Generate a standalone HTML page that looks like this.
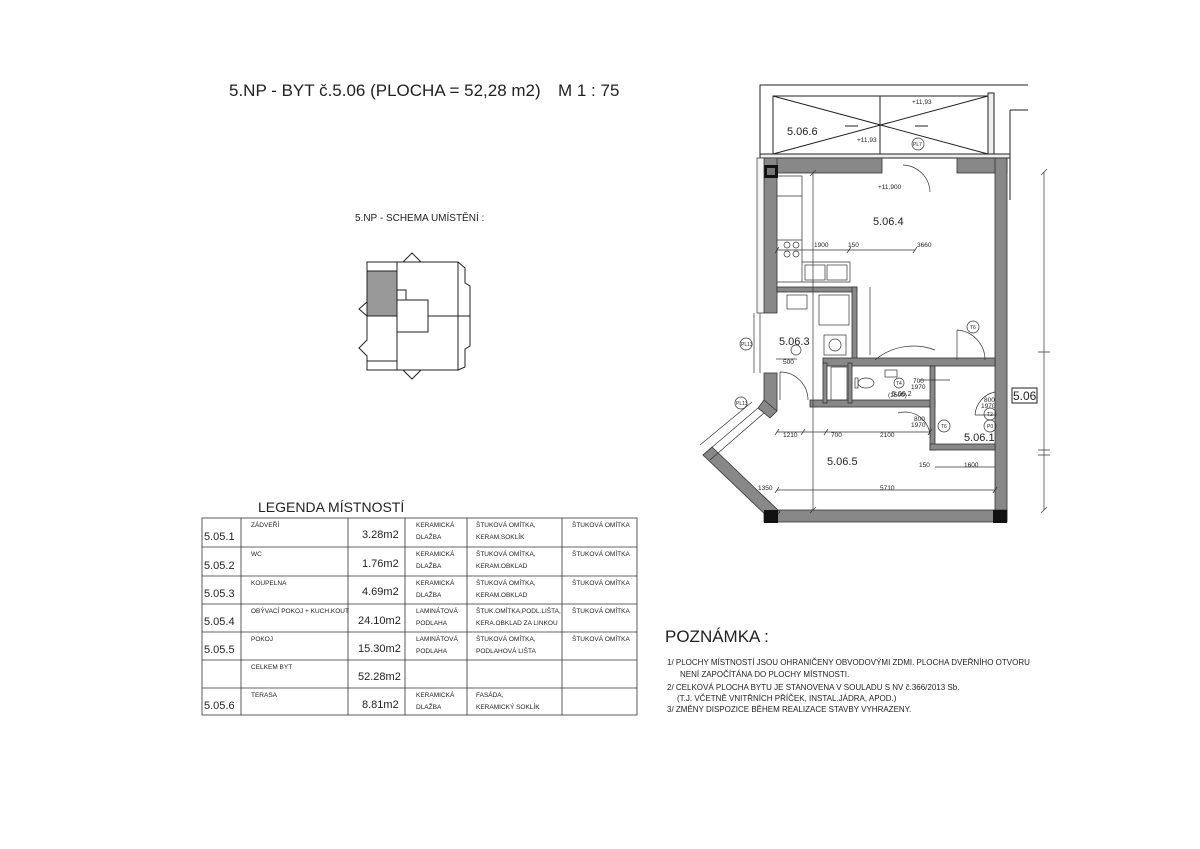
<!DOCTYPE html>
<html><head><meta charset="utf-8"><style>
html,body{margin:0;padding:0;background:#fff}
svg{display:block}
text{font-family:"Liberation Sans",sans-serif;fill:#222}
</style></head><body>
<svg width="1200" height="849" viewBox="0 0 1200 849" xmlns="http://www.w3.org/2000/svg">
<rect width="1200" height="849" fill="#fff"/>
<text x="229" y="96" font-size="17">5.NP - BYT č.5.06 (PLOCHA = 52,28 m2)</text>
<text x="558" y="96" font-size="17">M 1 : 75</text>
<text x="355" y="221" font-size="10">5.NP - SCHEMA UMÍSTĚNÍ :</text>

<!-- schema -->
<g fill="none" stroke="#222" stroke-width="1">
<rect x="367" y="271" width="30" height="45" fill="#999"/>
<path d="M367 262 H458 V370 H367 V356 L359 348 L367 340 V316 L359 309 L367 302 Z"/>
<path d="M367 271 H397 M397 262 V370 M367 361 H397 M397 290 H406 V300 M397 300 H428 V332 H397 M428 316 H470 M458 262 L465 268 V283 L470 286 V346 L465 349 V367 L458 370 M403 262 L412 253 L421 262 M403 370 L412 379 L421 370"/>
</g>

<!-- floor plan -->
<g stroke="#222" stroke-width="1" fill="none">
<path d="M760 157 V85 H1028"/>
<rect x="773" y="96" width="215" height="58"/>
<path d="M773 96 L988 154 M773 154 L988 96 M880 96 V154"/>
<path d="M845 126 H858 M915 126 H928 M880 105 V112 M880 140 V133"/>
<rect x="988" y="93" width="6" height="64" fill="#eee"/>
<rect x="760" y="154" width="250" height="4" fill="#eee"/>
<path d="M1010 110 V200 M1010 110 H1028"/>
</g>
<g fill="#888" stroke="#333" stroke-width="0.8">
<rect x="764" y="158" width="118" height="15"/>
<rect x="957" y="158" width="50" height="15"/>
<rect x="995" y="158" width="12" height="362"/>
<rect x="764" y="158" width="13" height="155"/>
<rect x="764" y="373" width="13" height="38"/>
<rect x="764" y="510" width="243" height="12"/>
<polygon points="703,455 712,447 780,512 771,520"/>
<polygon points="764,400 777,411 770,418 758,408"/>
<rect x="777" y="287" width="80" height="5"/>
<rect x="852" y="287" width="5" height="76"/>
<rect x="823" y="358" width="172" height="8"/>
<rect x="810" y="400" width="125" height="7"/>
<rect x="823" y="363" width="4" height="40"/>
<rect x="848" y="363" width="4" height="40"/>
<rect x="930" y="366" width="5" height="84"/>
<rect x="930" y="444" width="65" height="6"/>
</g>
<g fill="#111">
<rect x="764" y="165" width="14" height="13"/><rect x="767" y="168" width="8" height="7" fill="#777"/>
<rect x="764" y="510" width="14" height="13"/>
<rect x="993" y="510" width="14" height="13"/>
</g>
<g stroke="#333" stroke-width="0.7" fill="none">
<rect x="757" y="158" width="7" height="155" fill="#f4f4f4"/>
<path d="M777 176 H802 V282 M777 196 H802 M777 240 H802 M802 262 H850 V282 H777"/>
<circle cx="787" cy="245" r="3"/><circle cx="796" cy="245" r="3"/><circle cx="787" cy="254" r="3"/><circle cx="796" cy="254" r="3"/>
<rect x="805" y="265" width="20" height="15"/><rect x="827" y="265" width="20" height="15"/>
<rect x="787" y="295" width="20" height="14"/>
<rect x="819" y="295" width="30" height="30"/>
<rect x="824" y="335" width="22" height="20"/><circle cx="835" cy="345" r="6"/>
<rect x="831" y="367" width="16" height="33"/>
<ellipse cx="866" cy="383" rx="8" ry="5"/><rect x="855" y="378" width="3" height="10"/>
<rect x="885" y="370" width="12" height="7"/>
<path d="M875 360 A60 60 0 0 1 935 350"/>
<path d="M957 330 A30 30 0 0 1 985 360 M957 330 V360"/>
<path d="M975 415 A25 25 0 0 1 995 392 M975 415 H995"/>
<path d="M898 413 A25 25 0 0 1 930 438"/>
<path d="M780 372 A28 28 0 0 1 808 400 M780 372 V400"/>
<path d="M903 165 A28 28 0 0 1 930 192"/>
<path d="M703 455 L758 408 M710 460 L764 413 M700 445 L752 402"/>
<path d="M760 313 V373 M754 313 V373"/>
<!-- dims -->
<path d="M813 173 V510 M777 250 H915 M777 432 H930 M777 490 H995 M870 287 V355 M935 467 H995 M1044 172 V510 M1038 352 H1050 M1038 450 H1050 M1038 455 H1050 M776 359 H797 M920 380 H950"/>
<path d="M775 253 L779 247 M847 253 L851 247 M913 253 L917 247 M775 435 L779 429 M801 435 L805 429 M824 435 L828 429 M928 435 L932 429 M775 493 L779 487 M993 493 L997 487 M1041 175 L1047 169 M1041 513 L1047 507 M810 176 L816 170 M810 513 L816 507"/>
</g>
<g font-size="6.5" fill="#222">
<text x="814" y="247">1900</text><text x="848" y="247">150</text><text x="917" y="247">3660</text>
<text x="783" y="437">1210</text><text x="831" y="437">700</text><text x="880" y="437">2100</text>
<text x="758" y="490">1350</text><text x="880" y="490">5710</text>
<text x="919" y="467">150</text><text x="964" y="467">1600</text>
<text x="783" y="364">500</text>
<text x="878" y="189">+11,900</text>
<text x="912" y="104">+11,93</text><text x="857" y="142">+11,93</text>
<text x="888" y="397">(1500)</text>
<text x="984" y="402">800</text><text x="981" y="408">1970</text>
<text x="914" y="421">800</text><text x="911" y="427">1970</text>
<text x="913" y="383">700</text><text x="911" y="389">1970</text>
</g>
<g font-size="6" stroke="#333" stroke-width="0.7" fill="none">
<circle cx="918" cy="144" r="6"/><circle cx="973" cy="327" r="6"/><circle cx="944" cy="426" r="6"/><circle cx="990" cy="414" r="6"/><circle cx="990" cy="426" r="6"/><circle cx="746" cy="344" r="6"/><circle cx="741" cy="403" r="6"/><circle cx="796" cy="350" r="5"/><circle cx="899" cy="383" r="5"/>
</g>
<g font-size="5" fill="#222">
<text x="913" y="146">PL7</text><text x="970" y="329">T6</text><text x="941" y="428">T6</text><text x="987" y="416">T2</text><text x="987" y="428">P0</text><text x="741" y="346">PL13</text><text x="736" y="405">PL13</text><text x="896" y="385">T4</text>
</g>
<g font-size="11" fill="#222">
<text x="787" y="135">5.06.6</text>
<text x="873" y="225">5.06.4</text>
<text x="779" y="345">5.06.3</text>
<text x="827" y="465">5.06.5</text>
<text x="964" y="441">5.06.1</text>
</g>
<text x="892" y="396" font-size="7">5.06.2</text>
<rect x="1012" y="388" width="25" height="15" fill="none" stroke="#222"/>
<text x="1013" y="400" font-size="12">5.06</text>

<!-- legend -->
<text x="258" y="512" font-size="14">LEGENDA MÍSTNOSTÍ</text>
<g stroke="#333" stroke-width="0.8" fill="none">
<rect x="202" y="518" width="435" height="197"/>
<path d="M202 547 H637 M202 576 H637 M202 604 H637 M202 632 H637 M202 660 H637 M202 688 H637 M241 518 V715 M348 518 V715 M405 518 V715 M467 518 V715 M562 518 V715"/>
</g>
<g font-size="11"><text x="204" y="540">5.05.1</text><text x="204" y="569">5.05.2</text><text x="204" y="597">5.05.3</text><text x="204" y="625">5.05.4</text><text x="204" y="653">5.05.5</text><text x="204" y="709">5.05.6</text></g>
<g font-size="11"><text x="362" y="538">3.28m2</text><text x="362" y="567">1.76m2</text><text x="362" y="595">4.69m2</text><text x="358" y="624">24.10m2</text><text x="358" y="652">15.30m2</text><text x="358" y="680">52.28m2</text><text x="362" y="708">8.81m2</text></g>
<g font-size="6.5">
<text x="251" y="527">ZÁDVEŘÍ</text><text x="251" y="556">WC</text><text x="251" y="585">KOUPELNA</text><text x="251" y="613">OBÝVACÍ POKOJ + KUCH.KOUT</text><text x="251" y="641">POKOJ</text><text x="251" y="669">CELKEM BYT</text><text x="251" y="697">TERASA</text>
<text x="416" y="527">KERAMICKÁ</text><text x="416" y="539">DLAŽBA</text>
<text x="416" y="556">KERAMICKÁ</text><text x="416" y="568">DLAŽBA</text>
<text x="416" y="585">KERAMICKÁ</text><text x="416" y="597">DLAŽBA</text>
<text x="416" y="613">LAMINÁTOVÁ</text><text x="416" y="625">PODLAHA</text>
<text x="416" y="641">LAMINÁTOVÁ</text><text x="416" y="653">PODLAHA</text>
<text x="416" y="697">KERAMICKÁ</text><text x="416" y="709">DLAŽBA</text>
<text x="476" y="527">ŠTUKOVÁ OMÍTKA,</text><text x="476" y="539">KERAM.SOKLÍK</text>
<text x="476" y="556">ŠTUKOVÁ OMÍTKA,</text><text x="476" y="568">KERAM.OBKLAD</text>
<text x="476" y="585">ŠTUKOVÁ OMÍTKA,</text><text x="476" y="597">KERAM.OBKLAD</text>
<text x="476" y="613">ŠTUK.OMÍTKA,PODL.LIŠTA,</text><text x="476" y="625">KERA.OBKLAD ZA LINKOU</text>
<text x="476" y="641">ŠTUKOVÁ OMÍTKA,</text><text x="476" y="653">PODLAHOVÁ LIŠTA</text>
<text x="476" y="697">FASÁDA,</text><text x="476" y="709">KERAMICKÝ SOKLÍK</text>
<text x="572" y="527">ŠTUKOVÁ OMÍTKA</text><text x="572" y="556">ŠTUKOVÁ OMÍTKA</text><text x="572" y="585">ŠTUKOVÁ OMÍTKA</text><text x="572" y="613">ŠTUKOVÁ OMÍTKA</text><text x="572" y="641">ŠTUKOVÁ OMÍTKA</text>
</g>

<!-- notes -->
<text x="665" y="642" font-size="17">POZNÁMKA :</text>
<g font-size="8">
<text x="667" y="665">1/ PLOCHY MÍSTNOSTÍ JSOU OHRANIČENY OBVODOVÝMI ZDMI. PLOCHA DVEŘNÍHO OTVORU</text>
<text x="680" y="677">NENÍ ZAPOČÍTÁNA DO PLOCHY MÍSTNOSTI.</text>
<text x="667" y="690">2/ CELKOVÁ PLOCHA BYTU JE STANOVENA V SOULADU S NV č.366/2013 Sb.</text>
<text x="677" y="701">(T.J. VČETNĚ VNITŘNÍCH PŘÍČEK, INSTAL.JÁDRA, APOD.)</text>
<text x="667" y="712">3/ ZMĚNY DISPOZICE BĚHEM REALIZACE STAVBY VYHRAZENY.</text>
</g>
</svg>
</body></html>
